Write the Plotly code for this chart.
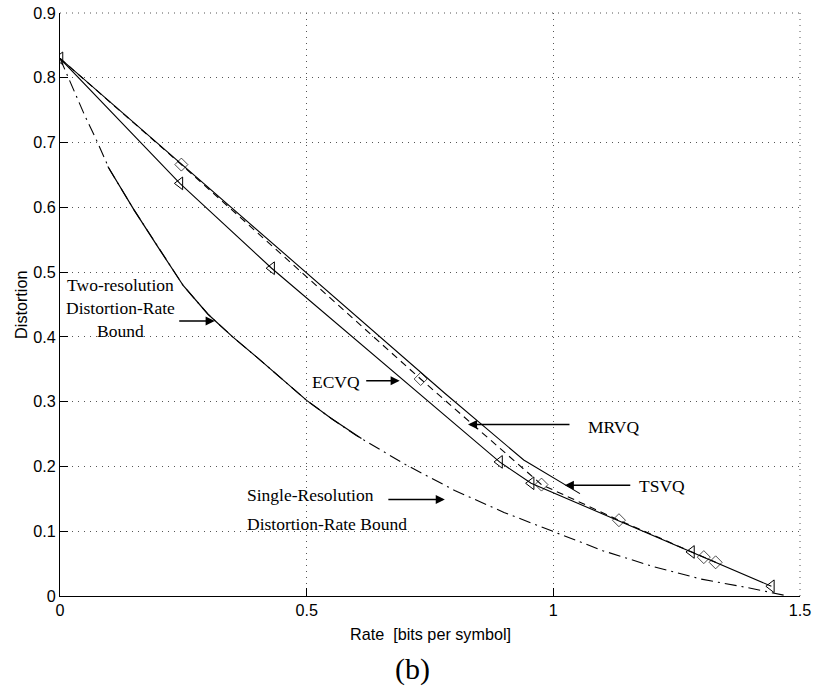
import plotly.graph_objects as go

# ---------------- data ----------------
sr_rate = [0, 0.01, 0.025, 0.05, 0.075, 0.1, 0.15, 0.2, 0.25, 0.3, 0.35, 0.4, 0.45,
           0.5, 0.55, 0.6, 0.7, 0.8, 0.9, 1.0, 1.1, 1.2, 1.3, 1.4, 1.475]
sr_dist = [0.83, 0.812, 0.787, 0.742, 0.702, 0.659, 0.596, 0.537, 0.479, 0.435, 0.400,
           0.368, 0.335, 0.302, 0.274, 0.248, 0.203, 0.163, 0.129, 0.099, 0.070,
           0.046, 0.026, 0.012, 0.0]

tr_rate = [0.097, 0.15, 0.2, 0.25, 0.3, 0.35, 0.4, 0.45, 0.5, 0.55, 0.611]
tr_dist = [0.663, 0.596, 0.537, 0.479, 0.435, 0.400, 0.368, 0.335, 0.302, 0.274, 0.243]

ecvq_rate = [0, 0.243, 0.429, 0.891, 0.955, 1.28, 1.442]
ecvq_dist = [0.83, 0.637, 0.506, 0.207, 0.174, 0.068, 0.015]

mrvq_rate = [0, 0.246, 0.731, 0.976, 1.133, 1.305, 1.329]
mrvq_dist = [0.83, 0.666, 0.335, 0.172, 0.117, 0.060, 0.052]

tsvq_rate = [0, 0.25, 0.5, 0.78, 0.94, 1.054]
tsvq_dist = [0.83, 0.664, 0.498, 0.313, 0.21, 0.158]

x_ticks = [0, 0.5, 1, 1.5]
x_ticklabels = ["0", "0.5", "1", "1.5"]
y_ticks = [0, 0.1, 0.2, 0.3, 0.4, 0.5, 0.6, 0.7, 0.8, 0.9]
y_ticklabels = ["0", "0.1", "0.2", "0.3", "0.4", "0.5", "0.6", "0.7", "0.8", "0.9"]

# ---------------- figure ----------------
fig = go.Figure()
LW = 1.1

fig.add_trace(go.Scatter(x=sr_rate, y=sr_dist, mode="lines",
                         line=dict(color="black", width=LW, dash="12px,5px,2px,5px")))
fig.add_trace(go.Scatter(x=tr_rate, y=tr_dist, mode="lines",
                         line=dict(color="black", width=1.2)))
fig.add_trace(go.Scatter(x=tsvq_rate, y=tsvq_dist, mode="lines",
                         line=dict(color="black", width=LW)))
fig.add_trace(go.Scatter(x=mrvq_rate, y=mrvq_dist, mode="lines+markers",
                         line=dict(color="black", width=LW, dash="7px,5px"),
                         marker=dict(symbol="diamond-open", size=[0, 10, 10, 10, 10, 10, 10],
                                     color="black", line=dict(width=1, color="black"))))
fig.add_trace(go.Scatter(x=ecvq_rate, y=ecvq_dist, mode="lines+markers",
                         line=dict(color="black", width=LW),
                         marker=dict(symbol="triangle-left-open", size=11,
                                     color="black", line=dict(width=1, color="black"))))

serif = "Liberation Serif, Times New Roman, serif"
sans = "Liberation Sans, Arial, sans-serif"
tf = dict(family=serif, size=17.5, color="black")

ann = []
def arrow(x, y, ax):
    ann.append(dict(x=x, y=y, xref="x", yref="y", ax=ax, ay=0, text="",
                    showarrow=True, arrowhead=2, arrowsize=1.3, arrowwidth=1.4,
                    arrowcolor="black"))

def label(x, y, text, xanchor="center"):
    ann.append(dict(x=x, y=y, xref="x", yref="y", text=text, showarrow=False,
                    font=tf, xanchor=xanchor, yanchor="middle", align="center"))

label(0.123, 0.4446, "Two-resolution<br>Distortion-Rate<br>Bound")
arrow(0.3136, 0.4245, -37)
label(0.5589, 0.3307, "ECVQ")
arrow(0.6886, 0.3322, -35)
label(1.1224, 0.2611, "MRVQ")
arrow(0.827, 0.2648, 103)
label(1.2208, 0.1694, "TSVQ")
arrow(1.0232, 0.171, 67)
label(0.3744, 0.1555, "Single-Resolution", xanchor="left")
label(0.3744, 0.1118, "Distortion-Rate Bound", xanchor="left")
arrow(0.7801, 0.1489, -58)

# axis titles and caption
ann.append(dict(x=-0.0535, y=0.5, xref="paper", yref="paper",
                text="Distortion", showarrow=False, textangle=-90,
                font=dict(family=sans, size=16.2, color="black"),
                xanchor="center", yanchor="middle"))
ann.append(dict(x=0.5, y=-0.0645, xref="paper", yref="paper",
                text="Rate\u00a0 [bits per symbol]", showarrow=False,
                font=dict(family=sans, size=16.2, color="black"),
                xanchor="center", yanchor="middle"))
ann.append(dict(x=0.4768, y=-0.126, xref="paper", yref="paper",
                text="(b)", showarrow=False,
                font=dict(family=serif, size=30, color="black"),
                xanchor="center", yanchor="middle"))

axis_common = dict(showgrid=True, gridcolor="#555", griddash="1px,5px", gridwidth=1,
                   zeroline=False, showline=True, linecolor="black", linewidth=1,
                   ticks="inside", ticklen=8, tickcolor="black", tickwidth=1,
                   tickfont=dict(family=sans, size=16.2, color="black"), mirror=False,
                   automargin=False, ticklabeloverflow="allow")

# dotted frame on top and right (as in the reference, where the box is dotted)
frame = dict(type="line", xref="paper", yref="paper", layer="below",
             line=dict(color="#555", width=1, dash="1px,5px"))
shapes = [dict(frame, x0=0, x1=1, y0=1, y1=1), dict(frame, x0=1, x1=1, y0=0, y1=1)]

fig.update_layout(
    width=814, height=692, autosize=False,
    margin=dict(l=60, r=14, t=13, b=96, autoexpand=False),
    paper_bgcolor="white", plot_bgcolor="white",
    showlegend=False,
    annotations=ann,
    shapes=shapes,
    xaxis=dict(range=[0, 1.5], tickvals=x_ticks, ticktext=x_ticklabels, **axis_common),
    yaxis=dict(range=[0, 0.9], tickvals=y_ticks, ticktext=y_ticklabels, **axis_common),
)

fig.write_html("out.html", config={"displayModeBar": False},
               post_script="document.body.style.margin='0px';")
